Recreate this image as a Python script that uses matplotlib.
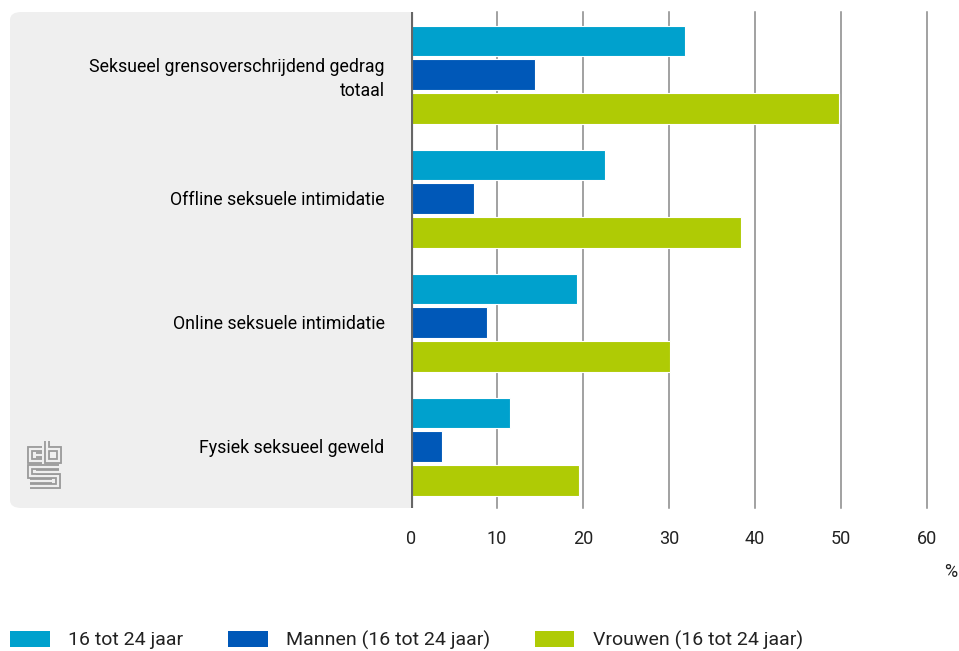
import matplotlib.pyplot as plt
import numpy as np
from matplotlib.patches import FancyBboxPatch, Patch

categories = [
    "Seksueel grensoverschrijdend gedrag\ntotaal",
    "Offline seksuele intimidatie",
    "Online seksuele intimidatie",
    "Fysiek seksueel geweld",
]
series_names = ["16 tot 24 jaar", "Mannen (16 tot 24 jaar)", "Vrouwen (16 tot 24 jaar)"]
totaal = [31.9, 22.6, 19.3, 11.5]
mannen = [14.4, 7.3, 8.8, 3.6]
vrouwen = [49.8, 38.4, 30.1, 19.5]
colors = ["#00a1cd", "#0058b8", "#afcb05"]
xticks = [0, 10, 20, 30, 40, 50, 60]

plt.rcParams['font.family'] = ['Roboto', 'DejaVu Sans']
plt.rcParams['font.size'] = 12.8
plt.rcParams['text.color'] = '#222222'

W, H = 959, 651
fig = plt.figure(figsize=(W / 100, H / 100), dpi=100)


def fx(px):
    return px / W


def fy(py):
    return 1 - py / H


# grey panel behind the category labels
panel = FancyBboxPatch((fx(10), fy(508)), fx(440) - fx(10), fy(12) - fy(508),
                       boxstyle="round,pad=0,rounding_size=0.012",
                       transform=fig.transFigure, facecolor='#efefef',
                       edgecolor='none', zorder=-5)
fig.patches.append(panel)

ax = fig.add_axes([fx(411), fy(508), fx(927) - fx(411), fy(12) - fy(508)])
ax.set_facecolor('white')

y = np.arange(len(categories))
step = 0.272
h = 0.248
for i, (vals, c) in enumerate(zip([totaal, mannen, vrouwen], colors)):
    ax.barh(y + (i - 1) * step + 0.005, vals, height=h, color=c,
            edgecolor='white', linewidth=0.8, zorder=3)

ax.set_xlim(0, 60)
ax.set_ylim(3.5, -0.5)
ax.set_xticks(xticks)
ax.set_xticklabels([str(t) for t in xticks])
ax.set_yticks(y)
ax.set_yticklabels(categories, ha='right', linespacing=1.4)
ax.tick_params(axis='y', length=0, pad=19)
ax.tick_params(axis='x', length=0, pad=16, colors='#222222', labelsize=13)
for t in xticks[1:]:
    ax.axvline(t, color='#888888', linewidth=1.1, zorder=1, clip_on=False)
ax.axvline(0, color='#666666', linewidth=3, zorder=4)
for s in ax.spines.values():
    s.set_visible(False)

fig.text(fx(951), fy(572), "%", ha='center', va='center', fontsize=13)

# cbs logo drawn as outlined strokes
lax = fig.add_axes([fx(26), fy(490), fx(64) - fx(26), fy(438) - fy(490)])
lax.set_xlim(26, 64)
lax.set_ylim(490, 438)
lax.axis('off')
logo_paths = [
    [(42, 449), (30, 449), (30, 461), (42, 461)],
    [(36, 455), (42, 455)],
    [(47, 441), (47, 461), (59, 461), (59, 449), (47, 449)],
    [(53, 455), (53, 455.01)],
    [(59, 467), (30, 467), (30, 476), (58, 476), (58, 486), (30, 486)],
    [(36, 471.5), (59, 471.5)],
    [(30, 481), (52, 481)],
]
for p in logo_paths:
    xs, ys = zip(*p)
    lax.plot(xs, ys, color='#9a9a9a', linewidth=4.2, solid_joinstyle='miter',
             solid_capstyle='butt')
    lax.plot(xs, ys, color='#efefef', linewidth=1.6, solid_joinstyle='miter',
             solid_capstyle='butt')

handles = [Patch(facecolor=c, edgecolor='none') for c in colors]
fig.legend(handles, series_names, loc='center left',
           bbox_to_anchor=(fx(10), fy(640)), ncol=3, frameon=False,
           fontsize=14, handlelength=2.05, handleheight=0.88,
           handletextpad=0.93, columnspacing=2.3, borderaxespad=0,
           borderpad=0)

fig.savefig('out.png', dpi=100)
